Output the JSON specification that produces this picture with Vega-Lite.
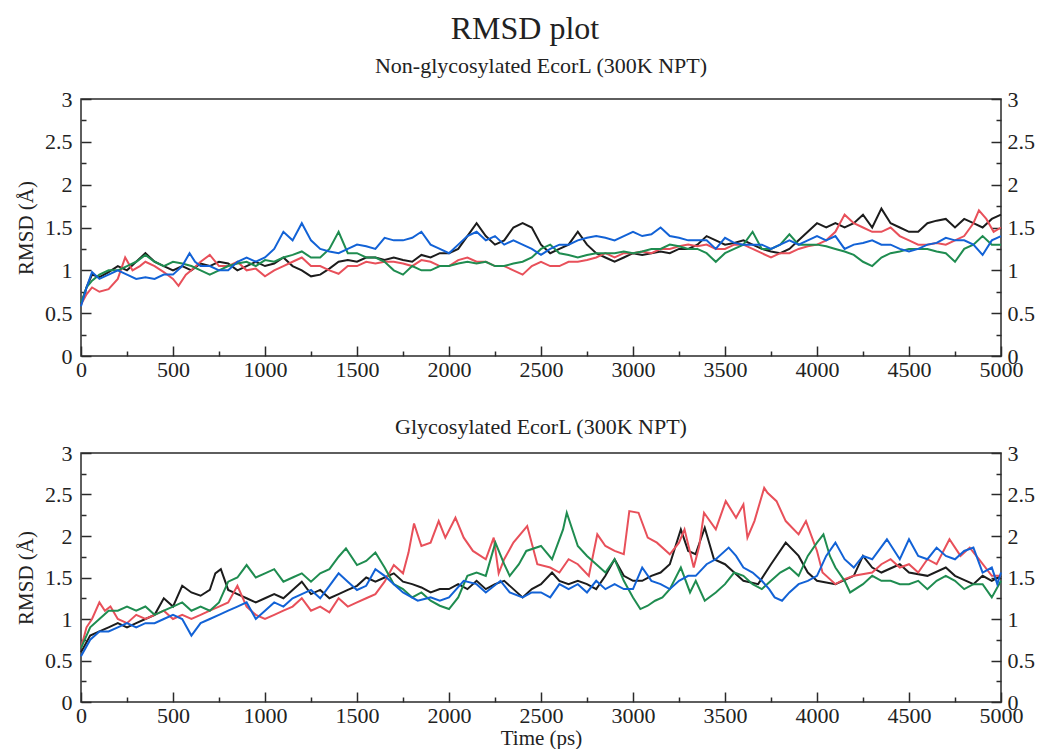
{
  "$schema": "https://vega.github.io/schema/vega-lite/v6.json",
  "background": "white",
  "padding": {"left": 14, "top": 13, "right": 5, "bottom": 0},
  "title": {"text": "RMSD plot", "fontSize": 32, "offset": 8, "anchor": "middle"},
  "config": {
    "font": "Liberation Serif",
    "view": {"stroke": "#2a2a2a", "strokeWidth": 1.5},
    "axis": {"domain": false, "ticks": true, "tickColor": "#2a2a2a", "tickWidth": 1.5, "labelColor": "#222", "labelFont": "Liberation Serif", "labelFontSize": 22, "labelOverlap": false, "labelBound": false, "labelFlush": false, "titleFont": "Liberation Serif", "titleFontWeight": "normal", "titleFontSize": 21, "titleColor": "#222", "grid": false},
    "title": {"font": "Liberation Serif", "fontWeight": "normal", "fontSize": 22, "color": "#222"}
  },
  "datasets": {
    "top": [
      {"s":"s1","t":0,"v":0.6},{"s":"s1","t":30,"v":0.8},{"s":"s1","t":60,"v":0.95},{"s":"s1","t":100,"v":0.92},{"s":"s1","t":150,"v":0.98},{"s":"s1","t":200,"v":1.05},{"s":"s1","t":250,"v":1.0},{"s":"s1","t":300,"v":1.1},{"s":"s1","t":350,"v":1.2},{"s":"s1","t":400,"v":1.1},{"s":"s1","t":450,"v":1.05},{"s":"s1","t":500,"v":1.0},{"s":"s1","t":550,"v":1.05},{"s":"s1","t":600,"v":1.0},{"s":"s1","t":650,"v":1.08},{"s":"s1","t":700,"v":1.05},{"s":"s1","t":750,"v":1.1},{"s":"s1","t":800,"v":1.08},{"s":"s1","t":850,"v":1.0},{"s":"s1","t":900,"v":1.05},{"s":"s1","t":950,"v":1.1},{"s":"s1","t":1000,"v":1.05},{"s":"s1","t":1050,"v":1.08},{"s":"s1","t":1100,"v":1.15},{"s":"s1","t":1150,"v":1.05},{"s":"s1","t":1200,"v":1.0},{"s":"s1","t":1250,"v":0.93},{"s":"s1","t":1300,"v":0.95},{"s":"s1","t":1350,"v":1.02},{"s":"s1","t":1400,"v":1.1},{"s":"s1","t":1450,"v":1.12},{"s":"s1","t":1500,"v":1.1},{"s":"s1","t":1550,"v":1.15},{"s":"s1","t":1600,"v":1.15},{"s":"s1","t":1650,"v":1.12},{"s":"s1","t":1700,"v":1.15},{"s":"s1","t":1750,"v":1.12},{"s":"s1","t":1800,"v":1.1},{"s":"s1","t":1850,"v":1.18},{"s":"s1","t":1900,"v":1.15},{"s":"s1","t":1950,"v":1.2},{"s":"s1","t":2000,"v":1.2},{"s":"s1","t":2050,"v":1.25},{"s":"s1","t":2100,"v":1.4},{"s":"s1","t":2150,"v":1.55},{"s":"s1","t":2200,"v":1.4},{"s":"s1","t":2250,"v":1.3},{"s":"s1","t":2300,"v":1.35},{"s":"s1","t":2350,"v":1.5},{"s":"s1","t":2400,"v":1.55},{"s":"s1","t":2450,"v":1.5},{"s":"s1","t":2500,"v":1.3},{"s":"s1","t":2550,"v":1.2},{"s":"s1","t":2600,"v":1.25},{"s":"s1","t":2650,"v":1.3},{"s":"s1","t":2700,"v":1.45},{"s":"s1","t":2750,"v":1.3},{"s":"s1","t":2800,"v":1.2},{"s":"s1","t":2850,"v":1.15},{"s":"s1","t":2900,"v":1.1},{"s":"s1","t":2950,"v":1.15},{"s":"s1","t":3000,"v":1.2},{"s":"s1","t":3050,"v":1.18},{"s":"s1","t":3100,"v":1.2},{"s":"s1","t":3150,"v":1.22},{"s":"s1","t":3200,"v":1.2},{"s":"s1","t":3250,"v":1.25},{"s":"s1","t":3300,"v":1.25},{"s":"s1","t":3350,"v":1.3},{"s":"s1","t":3400,"v":1.4},{"s":"s1","t":3450,"v":1.35},{"s":"s1","t":3500,"v":1.3},{"s":"s1","t":3550,"v":1.32},{"s":"s1","t":3600,"v":1.35},{"s":"s1","t":3650,"v":1.3},{"s":"s1","t":3700,"v":1.25},{"s":"s1","t":3750,"v":1.22},{"s":"s1","t":3800,"v":1.2},{"s":"s1","t":3850,"v":1.25},{"s":"s1","t":3900,"v":1.35},{"s":"s1","t":3950,"v":1.45},{"s":"s1","t":4000,"v":1.55},{"s":"s1","t":4050,"v":1.5},{"s":"s1","t":4100,"v":1.55},{"s":"s1","t":4150,"v":1.5},{"s":"s1","t":4200,"v":1.55},{"s":"s1","t":4250,"v":1.65},{"s":"s1","t":4300,"v":1.5},{"s":"s1","t":4350,"v":1.72},{"s":"s1","t":4400,"v":1.55},{"s":"s1","t":4450,"v":1.5},{"s":"s1","t":4500,"v":1.45},{"s":"s1","t":4550,"v":1.45},{"s":"s1","t":4600,"v":1.55},{"s":"s1","t":4650,"v":1.58},{"s":"s1","t":4700,"v":1.6},{"s":"s1","t":4750,"v":1.5},{"s":"s1","t":4800,"v":1.6},{"s":"s1","t":4850,"v":1.55},{"s":"s1","t":4900,"v":1.5},{"s":"s1","t":4950,"v":1.6},{"s":"s1","t":5000,"v":1.65},
      {"s":"s2","t":0,"v":0.6},{"s":"s2","t":30,"v":0.72},{"s":"s2","t":60,"v":0.8},{"s":"s2","t":100,"v":0.75},{"s":"s2","t":150,"v":0.78},{"s":"s2","t":200,"v":0.9},{"s":"s2","t":240,"v":1.15},{"s":"s2","t":280,"v":1.0},{"s":"s2","t":320,"v":1.05},{"s":"s2","t":350,"v":1.1},{"s":"s2","t":400,"v":1.05},{"s":"s2","t":450,"v":0.98},{"s":"s2","t":500,"v":0.9},{"s":"s2","t":530,"v":0.82},{"s":"s2","t":570,"v":0.95},{"s":"s2","t":600,"v":1.0},{"s":"s2","t":650,"v":1.1},{"s":"s2","t":700,"v":1.18},{"s":"s2","t":750,"v":1.05},{"s":"s2","t":800,"v":1.05},{"s":"s2","t":850,"v":1.1},{"s":"s2","t":900,"v":1.0},{"s":"s2","t":950,"v":1.02},{"s":"s2","t":1000,"v":0.93},{"s":"s2","t":1050,"v":1.0},{"s":"s2","t":1100,"v":1.05},{"s":"s2","t":1150,"v":1.1},{"s":"s2","t":1200,"v":1.15},{"s":"s2","t":1250,"v":1.05},{"s":"s2","t":1300,"v":1.05},{"s":"s2","t":1350,"v":1.0},{"s":"s2","t":1400,"v":0.96},{"s":"s2","t":1450,"v":1.05},{"s":"s2","t":1500,"v":1.05},{"s":"s2","t":1550,"v":1.1},{"s":"s2","t":1600,"v":1.08},{"s":"s2","t":1650,"v":1.1},{"s":"s2","t":1700,"v":1.1},{"s":"s2","t":1750,"v":1.08},{"s":"s2","t":1800,"v":1.05},{"s":"s2","t":1850,"v":1.12},{"s":"s2","t":1900,"v":1.1},{"s":"s2","t":1950,"v":1.05},{"s":"s2","t":2000,"v":1.05},{"s":"s2","t":2050,"v":1.12},{"s":"s2","t":2100,"v":1.15},{"s":"s2","t":2150,"v":1.1},{"s":"s2","t":2200,"v":1.1},{"s":"s2","t":2250,"v":1.05},{"s":"s2","t":2300,"v":1.05},{"s":"s2","t":2350,"v":1.0},{"s":"s2","t":2400,"v":0.95},{"s":"s2","t":2450,"v":1.05},{"s":"s2","t":2500,"v":1.1},{"s":"s2","t":2550,"v":1.05},{"s":"s2","t":2600,"v":1.05},{"s":"s2","t":2650,"v":1.1},{"s":"s2","t":2700,"v":1.1},{"s":"s2","t":2750,"v":1.12},{"s":"s2","t":2800,"v":1.15},{"s":"s2","t":2850,"v":1.2},{"s":"s2","t":2900,"v":1.15},{"s":"s2","t":2950,"v":1.2},{"s":"s2","t":3000,"v":1.2},{"s":"s2","t":3050,"v":1.22},{"s":"s2","t":3100,"v":1.2},{"s":"s2","t":3150,"v":1.25},{"s":"s2","t":3200,"v":1.25},{"s":"s2","t":3250,"v":1.28},{"s":"s2","t":3300,"v":1.3},{"s":"s2","t":3350,"v":1.28},{"s":"s2","t":3400,"v":1.3},{"s":"s2","t":3450,"v":1.25},{"s":"s2","t":3500,"v":1.25},{"s":"s2","t":3550,"v":1.3},{"s":"s2","t":3600,"v":1.3},{"s":"s2","t":3650,"v":1.25},{"s":"s2","t":3700,"v":1.2},{"s":"s2","t":3750,"v":1.15},{"s":"s2","t":3800,"v":1.2},{"s":"s2","t":3850,"v":1.2},{"s":"s2","t":3900,"v":1.25},{"s":"s2","t":3950,"v":1.28},{"s":"s2","t":4000,"v":1.3},{"s":"s2","t":4050,"v":1.35},{"s":"s2","t":4100,"v":1.45},{"s":"s2","t":4150,"v":1.65},{"s":"s2","t":4200,"v":1.55},{"s":"s2","t":4250,"v":1.5},{"s":"s2","t":4300,"v":1.45},{"s":"s2","t":4350,"v":1.45},{"s":"s2","t":4400,"v":1.5},{"s":"s2","t":4450,"v":1.4},{"s":"s2","t":4500,"v":1.35},{"s":"s2","t":4550,"v":1.3},{"s":"s2","t":4600,"v":1.3},{"s":"s2","t":4650,"v":1.32},{"s":"s2","t":4700,"v":1.3},{"s":"s2","t":4750,"v":1.35},{"s":"s2","t":4800,"v":1.4},{"s":"s2","t":4850,"v":1.55},{"s":"s2","t":4880,"v":1.7},{"s":"s2","t":4920,"v":1.6},{"s":"s2","t":4960,"v":1.45},{"s":"s2","t":5000,"v":1.5},
      {"s":"s3","t":0,"v":0.62},{"s":"s3","t":30,"v":0.8},{"s":"s3","t":60,"v":0.88},{"s":"s3","t":100,"v":0.95},{"s":"s3","t":150,"v":1.0},{"s":"s3","t":200,"v":1.0},{"s":"s3","t":250,"v":1.05},{"s":"s3","t":300,"v":1.1},{"s":"s3","t":350,"v":1.18},{"s":"s3","t":400,"v":1.1},{"s":"s3","t":450,"v":1.05},{"s":"s3","t":500,"v":1.1},{"s":"s3","t":550,"v":1.08},{"s":"s3","t":600,"v":1.05},{"s":"s3","t":650,"v":1.0},{"s":"s3","t":700,"v":0.95},{"s":"s3","t":750,"v":1.0},{"s":"s3","t":800,"v":1.05},{"s":"s3","t":850,"v":1.08},{"s":"s3","t":900,"v":1.1},{"s":"s3","t":950,"v":1.05},{"s":"s3","t":1000,"v":1.12},{"s":"s3","t":1050,"v":1.1},{"s":"s3","t":1100,"v":1.15},{"s":"s3","t":1150,"v":1.18},{"s":"s3","t":1200,"v":1.22},{"s":"s3","t":1250,"v":1.15},{"s":"s3","t":1300,"v":1.15},{"s":"s3","t":1350,"v":1.25},{"s":"s3","t":1400,"v":1.45},{"s":"s3","t":1450,"v":1.2},{"s":"s3","t":1500,"v":1.2},{"s":"s3","t":1550,"v":1.15},{"s":"s3","t":1600,"v":1.15},{"s":"s3","t":1650,"v":1.1},{"s":"s3","t":1700,"v":1.0},{"s":"s3","t":1750,"v":0.95},{"s":"s3","t":1800,"v":1.05},{"s":"s3","t":1850,"v":1.0},{"s":"s3","t":1900,"v":1.0},{"s":"s3","t":1950,"v":1.05},{"s":"s3","t":2000,"v":1.05},{"s":"s3","t":2050,"v":1.08},{"s":"s3","t":2100,"v":1.1},{"s":"s3","t":2150,"v":1.08},{"s":"s3","t":2200,"v":1.1},{"s":"s3","t":2250,"v":1.05},{"s":"s3","t":2300,"v":1.05},{"s":"s3","t":2350,"v":1.08},{"s":"s3","t":2400,"v":1.1},{"s":"s3","t":2450,"v":1.15},{"s":"s3","t":2500,"v":1.25},{"s":"s3","t":2550,"v":1.3},{"s":"s3","t":2600,"v":1.2},{"s":"s3","t":2650,"v":1.18},{"s":"s3","t":2700,"v":1.15},{"s":"s3","t":2750,"v":1.18},{"s":"s3","t":2800,"v":1.2},{"s":"s3","t":2850,"v":1.2},{"s":"s3","t":2900,"v":1.2},{"s":"s3","t":2950,"v":1.22},{"s":"s3","t":3000,"v":1.2},{"s":"s3","t":3050,"v":1.22},{"s":"s3","t":3100,"v":1.25},{"s":"s3","t":3150,"v":1.25},{"s":"s3","t":3200,"v":1.3},{"s":"s3","t":3250,"v":1.28},{"s":"s3","t":3300,"v":1.25},{"s":"s3","t":3350,"v":1.25},{"s":"s3","t":3400,"v":1.2},{"s":"s3","t":3450,"v":1.1},{"s":"s3","t":3500,"v":1.2},{"s":"s3","t":3550,"v":1.25},{"s":"s3","t":3600,"v":1.3},{"s":"s3","t":3650,"v":1.45},{"s":"s3","t":3700,"v":1.25},{"s":"s3","t":3750,"v":1.25},{"s":"s3","t":3800,"v":1.3},{"s":"s3","t":3850,"v":1.42},{"s":"s3","t":3900,"v":1.3},{"s":"s3","t":3950,"v":1.3},{"s":"s3","t":4000,"v":1.3},{"s":"s3","t":4050,"v":1.28},{"s":"s3","t":4100,"v":1.25},{"s":"s3","t":4150,"v":1.22},{"s":"s3","t":4200,"v":1.18},{"s":"s3","t":4250,"v":1.1},{"s":"s3","t":4300,"v":1.05},{"s":"s3","t":4350,"v":1.15},{"s":"s3","t":4400,"v":1.2},{"s":"s3","t":4450,"v":1.22},{"s":"s3","t":4500,"v":1.25},{"s":"s3","t":4550,"v":1.25},{"s":"s3","t":4600,"v":1.25},{"s":"s3","t":4650,"v":1.22},{"s":"s3","t":4700,"v":1.2},{"s":"s3","t":4750,"v":1.1},{"s":"s3","t":4800,"v":1.25},{"s":"s3","t":4850,"v":1.3},{"s":"s3","t":4900,"v":1.4},{"s":"s3","t":4950,"v":1.3},{"s":"s3","t":5000,"v":1.3},
      {"s":"s4","t":0,"v":0.58},{"s":"s4","t":30,"v":0.8},{"s":"s4","t":60,"v":0.98},{"s":"s4","t":100,"v":0.9},{"s":"s4","t":150,"v":0.95},{"s":"s4","t":200,"v":1.0},{"s":"s4","t":250,"v":0.95},{"s":"s4","t":300,"v":0.9},{"s":"s4","t":350,"v":0.92},{"s":"s4","t":400,"v":0.9},{"s":"s4","t":450,"v":0.95},{"s":"s4","t":500,"v":0.95},{"s":"s4","t":550,"v":1.05},{"s":"s4","t":590,"v":1.2},{"s":"s4","t":620,"v":1.1},{"s":"s4","t":650,"v":1.05},{"s":"s4","t":700,"v":1.05},{"s":"s4","t":750,"v":1.0},{"s":"s4","t":800,"v":1.0},{"s":"s4","t":850,"v":1.1},{"s":"s4","t":900,"v":1.15},{"s":"s4","t":950,"v":1.1},{"s":"s4","t":1000,"v":1.15},{"s":"s4","t":1050,"v":1.25},{"s":"s4","t":1100,"v":1.45},{"s":"s4","t":1150,"v":1.35},{"s":"s4","t":1200,"v":1.55},{"s":"s4","t":1250,"v":1.35},{"s":"s4","t":1300,"v":1.25},{"s":"s4","t":1350,"v":1.22},{"s":"s4","t":1400,"v":1.2},{"s":"s4","t":1450,"v":1.25},{"s":"s4","t":1500,"v":1.3},{"s":"s4","t":1550,"v":1.28},{"s":"s4","t":1600,"v":1.25},{"s":"s4","t":1650,"v":1.38},{"s":"s4","t":1700,"v":1.35},{"s":"s4","t":1750,"v":1.35},{"s":"s4","t":1800,"v":1.38},{"s":"s4","t":1850,"v":1.45},{"s":"s4","t":1900,"v":1.3},{"s":"s4","t":1950,"v":1.25},{"s":"s4","t":2000,"v":1.2},{"s":"s4","t":2050,"v":1.3},{"s":"s4","t":2100,"v":1.4},{"s":"s4","t":2150,"v":1.45},{"s":"s4","t":2200,"v":1.35},{"s":"s4","t":2250,"v":1.4},{"s":"s4","t":2300,"v":1.3},{"s":"s4","t":2350,"v":1.35},{"s":"s4","t":2400,"v":1.3},{"s":"s4","t":2450,"v":1.25},{"s":"s4","t":2500,"v":1.18},{"s":"s4","t":2550,"v":1.25},{"s":"s4","t":2600,"v":1.3},{"s":"s4","t":2650,"v":1.3},{"s":"s4","t":2700,"v":1.35},{"s":"s4","t":2750,"v":1.38},{"s":"s4","t":2800,"v":1.4},{"s":"s4","t":2850,"v":1.38},{"s":"s4","t":2900,"v":1.35},{"s":"s4","t":2950,"v":1.4},{"s":"s4","t":3000,"v":1.45},{"s":"s4","t":3050,"v":1.4},{"s":"s4","t":3100,"v":1.42},{"s":"s4","t":3150,"v":1.5},{"s":"s4","t":3200,"v":1.4},{"s":"s4","t":3250,"v":1.38},{"s":"s4","t":3300,"v":1.35},{"s":"s4","t":3350,"v":1.35},{"s":"s4","t":3400,"v":1.35},{"s":"s4","t":3450,"v":1.25},{"s":"s4","t":3500,"v":1.38},{"s":"s4","t":3550,"v":1.32},{"s":"s4","t":3600,"v":1.3},{"s":"s4","t":3650,"v":1.3},{"s":"s4","t":3700,"v":1.3},{"s":"s4","t":3750,"v":1.25},{"s":"s4","t":3800,"v":1.3},{"s":"s4","t":3850,"v":1.35},{"s":"s4","t":3900,"v":1.3},{"s":"s4","t":3950,"v":1.35},{"s":"s4","t":4000,"v":1.4},{"s":"s4","t":4050,"v":1.35},{"s":"s4","t":4100,"v":1.4},{"s":"s4","t":4150,"v":1.25},{"s":"s4","t":4200,"v":1.3},{"s":"s4","t":4250,"v":1.32},{"s":"s4","t":4300,"v":1.35},{"s":"s4","t":4350,"v":1.3},{"s":"s4","t":4400,"v":1.3},{"s":"s4","t":4450,"v":1.25},{"s":"s4","t":4500,"v":1.22},{"s":"s4","t":4550,"v":1.25},{"s":"s4","t":4600,"v":1.3},{"s":"s4","t":4650,"v":1.32},{"s":"s4","t":4700,"v":1.38},{"s":"s4","t":4750,"v":1.35},{"s":"s4","t":4800,"v":1.35},{"s":"s4","t":4850,"v":1.3},{"s":"s4","t":4900,"v":1.18},{"s":"s4","t":4950,"v":1.35},{"s":"s4","t":5000,"v":1.4}
    ],
    "bottom": [
      {"s":"s1","t":0,"v":0.6},{"s":"s1","t":50,"v":0.8},{"s":"s1","t":100,"v":0.85},{"s":"s1","t":150,"v":0.9},{"s":"s1","t":200,"v":0.95},{"s":"s1","t":250,"v":0.9},{"s":"s1","t":300,"v":0.95},{"s":"s1","t":350,"v":1.0},{"s":"s1","t":400,"v":1.05},{"s":"s1","t":450,"v":1.25},{"s":"s1","t":500,"v":1.15},{"s":"s1","t":550,"v":1.4},{"s":"s1","t":600,"v":1.32},{"s":"s1","t":650,"v":1.28},{"s":"s1","t":700,"v":1.35},{"s":"s1","t":730,"v":1.55},{"s":"s1","t":760,"v":1.6},{"s":"s1","t":800,"v":1.35},{"s":"s1","t":850,"v":1.3},{"s":"s1","t":900,"v":1.25},{"s":"s1","t":950,"v":1.2},{"s":"s1","t":1000,"v":1.25},{"s":"s1","t":1050,"v":1.3},{"s":"s1","t":1100,"v":1.25},{"s":"s1","t":1150,"v":1.35},{"s":"s1","t":1200,"v":1.45},{"s":"s1","t":1250,"v":1.3},{"s":"s1","t":1300,"v":1.35},{"s":"s1","t":1350,"v":1.25},{"s":"s1","t":1400,"v":1.3},{"s":"s1","t":1450,"v":1.35},{"s":"s1","t":1500,"v":1.4},{"s":"s1","t":1550,"v":1.5},{"s":"s1","t":1600,"v":1.45},{"s":"s1","t":1650,"v":1.5},{"s":"s1","t":1700,"v":1.55},{"s":"s1","t":1750,"v":1.45},{"s":"s1","t":1800,"v":1.42},{"s":"s1","t":1850,"v":1.38},{"s":"s1","t":1900,"v":1.32},{"s":"s1","t":1950,"v":1.36},{"s":"s1","t":2000,"v":1.36},{"s":"s1","t":2050,"v":1.42},{"s":"s1","t":2100,"v":1.36},{"s":"s1","t":2150,"v":1.46},{"s":"s1","t":2200,"v":1.36},{"s":"s1","t":2250,"v":1.42},{"s":"s1","t":2300,"v":1.46},{"s":"s1","t":2350,"v":1.36},{"s":"s1","t":2400,"v":1.26},{"s":"s1","t":2450,"v":1.36},{"s":"s1","t":2500,"v":1.42},{"s":"s1","t":2560,"v":1.56},{"s":"s1","t":2600,"v":1.46},{"s":"s1","t":2650,"v":1.42},{"s":"s1","t":2700,"v":1.46},{"s":"s1","t":2750,"v":1.42},{"s":"s1","t":2800,"v":1.36},{"s":"s1","t":2850,"v":1.52},{"s":"s1","t":2900,"v":1.72},{"s":"s1","t":2950,"v":1.52},{"s":"s1","t":3000,"v":1.46},{"s":"s1","t":3050,"v":1.46},{"s":"s1","t":3100,"v":1.52},{"s":"s1","t":3150,"v":1.56},{"s":"s1","t":3200,"v":1.66},{"s":"s1","t":3260,"v":2.08},{"s":"s1","t":3300,"v":1.82},{"s":"s1","t":3340,"v":1.78},{"s":"s1","t":3390,"v":2.1},{"s":"s1","t":3440,"v":1.72},{"s":"s1","t":3500,"v":1.66},{"s":"s1","t":3550,"v":1.56},{"s":"s1","t":3600,"v":1.46},{"s":"s1","t":3680,"v":1.42},{"s":"s1","t":3750,"v":1.66},{"s":"s1","t":3830,"v":1.92},{"s":"s1","t":3900,"v":1.76},{"s":"s1","t":3950,"v":1.56},{"s":"s1","t":4000,"v":1.46},{"s":"s1","t":4100,"v":1.42},{"s":"s1","t":4200,"v":1.52},{"s":"s1","t":4250,"v":1.76},{"s":"s1","t":4300,"v":1.62},{"s":"s1","t":4350,"v":1.56},{"s":"s1","t":4450,"v":1.66},{"s":"s1","t":4500,"v":1.56},{"s":"s1","t":4600,"v":1.52},{"s":"s1","t":4700,"v":1.62},{"s":"s1","t":4750,"v":1.52},{"s":"s1","t":4850,"v":1.42},{"s":"s1","t":4900,"v":1.52},{"s":"s1","t":4950,"v":1.46},{"s":"s1","t":5000,"v":1.52},
      {"s":"s2","t":0,"v":0.65},{"s":"s2","t":30,"v":0.9},{"s":"s2","t":60,"v":1.0},{"s":"s2","t":100,"v":1.2},{"s":"s2","t":130,"v":1.1},{"s":"s2","t":160,"v":1.15},{"s":"s2","t":200,"v":1.0},{"s":"s2","t":250,"v":0.95},{"s":"s2","t":300,"v":1.05},{"s":"s2","t":350,"v":1.0},{"s":"s2","t":400,"v":1.05},{"s":"s2","t":450,"v":1.1},{"s":"s2","t":500,"v":1.0},{"s":"s2","t":550,"v":1.05},{"s":"s2","t":600,"v":1.0},{"s":"s2","t":650,"v":1.05},{"s":"s2","t":700,"v":1.1},{"s":"s2","t":750,"v":1.15},{"s":"s2","t":800,"v":1.2},{"s":"s2","t":850,"v":1.4},{"s":"s2","t":900,"v":1.15},{"s":"s2","t":950,"v":1.05},{"s":"s2","t":1000,"v":1.0},{"s":"s2","t":1050,"v":1.05},{"s":"s2","t":1100,"v":1.1},{"s":"s2","t":1150,"v":1.15},{"s":"s2","t":1200,"v":1.25},{"s":"s2","t":1250,"v":1.1},{"s":"s2","t":1300,"v":1.15},{"s":"s2","t":1350,"v":1.08},{"s":"s2","t":1400,"v":1.25},{"s":"s2","t":1450,"v":1.15},{"s":"s2","t":1500,"v":1.2},{"s":"s2","t":1550,"v":1.25},{"s":"s2","t":1600,"v":1.3},{"s":"s2","t":1650,"v":1.45},{"s":"s2","t":1700,"v":1.65},{"s":"s2","t":1750,"v":1.55},{"s":"s2","t":1780,"v":1.8},{"s":"s2","t":1810,"v":2.15},{"s":"s2","t":1850,"v":1.88},{"s":"s2","t":1900,"v":1.92},{"s":"s2","t":1944,"v":2.18},{"s":"s2","t":1980,"v":1.98},{"s":"s2","t":2035,"v":2.22},{"s":"s2","t":2080,"v":1.98},{"s":"s2","t":2130,"v":1.82},{"s":"s2","t":2200,"v":1.72},{"s":"s2","t":2243,"v":1.98},{"s":"s2","t":2270,"v":1.55},{"s":"s2","t":2300,"v":1.72},{"s":"s2","t":2350,"v":1.92},{"s":"s2","t":2425,"v":2.12},{"s":"s2","t":2480,"v":1.66},{"s":"s2","t":2550,"v":1.62},{"s":"s2","t":2600,"v":1.56},{"s":"s2","t":2650,"v":1.72},{"s":"s2","t":2700,"v":1.66},{"s":"s2","t":2760,"v":1.52},{"s":"s2","t":2806,"v":2.02},{"s":"s2","t":2850,"v":1.88},{"s":"s2","t":2900,"v":1.82},{"s":"s2","t":2950,"v":1.78},{"s":"s2","t":2980,"v":2.3},{"s":"s2","t":3030,"v":2.28},{"s":"s2","t":3080,"v":1.98},{"s":"s2","t":3130,"v":1.92},{"s":"s2","t":3200,"v":1.78},{"s":"s2","t":3250,"v":1.92},{"s":"s2","t":3280,"v":2.08},{"s":"s2","t":3330,"v":1.62},{"s":"s2","t":3360,"v":1.88},{"s":"s2","t":3386,"v":2.28},{"s":"s2","t":3450,"v":2.08},{"s":"s2","t":3504,"v":2.42},{"s":"s2","t":3560,"v":2.22},{"s":"s2","t":3600,"v":2.38},{"s":"s2","t":3622,"v":1.98},{"s":"s2","t":3660,"v":2.18},{"s":"s2","t":3713,"v":2.58},{"s":"s2","t":3731,"v":2.52},{"s":"s2","t":3780,"v":2.42},{"s":"s2","t":3830,"v":2.18},{"s":"s2","t":3900,"v":2.02},{"s":"s2","t":3940,"v":2.18},{"s":"s2","t":4000,"v":1.82},{"s":"s2","t":4030,"v":1.56},{"s":"s2","t":4100,"v":1.42},{"s":"s2","t":4150,"v":1.48},{"s":"s2","t":4200,"v":1.52},{"s":"s2","t":4300,"v":1.56},{"s":"s2","t":4350,"v":1.66},{"s":"s2","t":4400,"v":1.72},{"s":"s2","t":4450,"v":1.62},{"s":"s2","t":4500,"v":1.66},{"s":"s2","t":4550,"v":1.56},{"s":"s2","t":4600,"v":1.72},{"s":"s2","t":4650,"v":1.66},{"s":"s2","t":4720,"v":1.96},{"s":"s2","t":4780,"v":1.76},{"s":"s2","t":4830,"v":1.86},{"s":"s2","t":4880,"v":1.72},{"s":"s2","t":4950,"v":1.52},{"s":"s2","t":5000,"v":1.52},
      {"s":"s3","t":0,"v":0.65},{"s":"s3","t":50,"v":0.9},{"s":"s3","t":100,"v":1.0},{"s":"s3","t":150,"v":1.1},{"s":"s3","t":200,"v":1.1},{"s":"s3","t":250,"v":1.15},{"s":"s3","t":300,"v":1.1},{"s":"s3","t":350,"v":1.15},{"s":"s3","t":400,"v":1.05},{"s":"s3","t":450,"v":1.1},{"s":"s3","t":500,"v":1.15},{"s":"s3","t":550,"v":1.2},{"s":"s3","t":600,"v":1.1},{"s":"s3","t":650,"v":1.15},{"s":"s3","t":700,"v":1.1},{"s":"s3","t":750,"v":1.2},{"s":"s3","t":800,"v":1.45},{"s":"s3","t":850,"v":1.5},{"s":"s3","t":900,"v":1.65},{"s":"s3","t":950,"v":1.5},{"s":"s3","t":1000,"v":1.55},{"s":"s3","t":1050,"v":1.6},{"s":"s3","t":1100,"v":1.45},{"s":"s3","t":1150,"v":1.5},{"s":"s3","t":1200,"v":1.55},{"s":"s3","t":1250,"v":1.45},{"s":"s3","t":1300,"v":1.55},{"s":"s3","t":1350,"v":1.6},{"s":"s3","t":1400,"v":1.75},{"s":"s3","t":1440,"v":1.85},{"s":"s3","t":1500,"v":1.65},{"s":"s3","t":1550,"v":1.7},{"s":"s3","t":1600,"v":1.8},{"s":"s3","t":1650,"v":1.62},{"s":"s3","t":1700,"v":1.42},{"s":"s3","t":1750,"v":1.36},{"s":"s3","t":1800,"v":1.26},{"s":"s3","t":1850,"v":1.32},{"s":"s3","t":1900,"v":1.22},{"s":"s3","t":1950,"v":1.16},{"s":"s3","t":2000,"v":1.12},{"s":"s3","t":2050,"v":1.26},{"s":"s3","t":2100,"v":1.52},{"s":"s3","t":2150,"v":1.56},{"s":"s3","t":2200,"v":1.52},{"s":"s3","t":2252,"v":1.92},{"s":"s3","t":2300,"v":1.66},{"s":"s3","t":2330,"v":1.52},{"s":"s3","t":2380,"v":1.66},{"s":"s3","t":2420,"v":1.82},{"s":"s3","t":2500,"v":1.88},{"s":"s3","t":2560,"v":1.72},{"s":"s3","t":2620,"v":2.08},{"s":"s3","t":2640,"v":2.28},{"s":"s3","t":2700,"v":1.88},{"s":"s3","t":2750,"v":1.76},{"s":"s3","t":2800,"v":1.66},{"s":"s3","t":2850,"v":1.56},{"s":"s3","t":2900,"v":1.72},{"s":"s3","t":2950,"v":1.46},{"s":"s3","t":3000,"v":1.26},{"s":"s3","t":3040,"v":1.12},{"s":"s3","t":3080,"v":1.16},{"s":"s3","t":3120,"v":1.22},{"s":"s3","t":3160,"v":1.26},{"s":"s3","t":3200,"v":1.36},{"s":"s3","t":3260,"v":1.62},{"s":"s3","t":3310,"v":1.32},{"s":"s3","t":3341,"v":1.46},{"s":"s3","t":3390,"v":1.22},{"s":"s3","t":3450,"v":1.32},{"s":"s3","t":3500,"v":1.42},{"s":"s3","t":3550,"v":1.56},{"s":"s3","t":3600,"v":1.52},{"s":"s3","t":3650,"v":1.42},{"s":"s3","t":3700,"v":1.36},{"s":"s3","t":3750,"v":1.46},{"s":"s3","t":3800,"v":1.56},{"s":"s3","t":3850,"v":1.62},{"s":"s3","t":3900,"v":1.52},{"s":"s3","t":3950,"v":1.76},{"s":"s3","t":4000,"v":1.92},{"s":"s3","t":4035,"v":2.02},{"s":"s3","t":4070,"v":1.76},{"s":"s3","t":4100,"v":1.62},{"s":"s3","t":4150,"v":1.46},{"s":"s3","t":4180,"v":1.32},{"s":"s3","t":4250,"v":1.42},{"s":"s3","t":4300,"v":1.52},{"s":"s3","t":4350,"v":1.46},{"s":"s3","t":4400,"v":1.46},{"s":"s3","t":4450,"v":1.42},{"s":"s3","t":4500,"v":1.42},{"s":"s3","t":4550,"v":1.46},{"s":"s3","t":4600,"v":1.36},{"s":"s3","t":4650,"v":1.46},{"s":"s3","t":4700,"v":1.52},{"s":"s3","t":4750,"v":1.46},{"s":"s3","t":4800,"v":1.36},{"s":"s3","t":4850,"v":1.42},{"s":"s3","t":4900,"v":1.42},{"s":"s3","t":4950,"v":1.26},{"s":"s3","t":5000,"v":1.46},
      {"s":"s4","t":0,"v":0.55},{"s":"s4","t":50,"v":0.75},{"s":"s4","t":100,"v":0.85},{"s":"s4","t":150,"v":0.85},{"s":"s4","t":200,"v":0.9},{"s":"s4","t":250,"v":0.95},{"s":"s4","t":300,"v":0.9},{"s":"s4","t":350,"v":0.95},{"s":"s4","t":400,"v":0.95},{"s":"s4","t":450,"v":1.0},{"s":"s4","t":500,"v":1.05},{"s":"s4","t":550,"v":1.0},{"s":"s4","t":600,"v":0.8},{"s":"s4","t":650,"v":0.95},{"s":"s4","t":700,"v":1.0},{"s":"s4","t":750,"v":1.05},{"s":"s4","t":800,"v":1.1},{"s":"s4","t":850,"v":1.15},{"s":"s4","t":900,"v":1.2},{"s":"s4","t":950,"v":1.0},{"s":"s4","t":1000,"v":1.1},{"s":"s4","t":1050,"v":1.2},{"s":"s4","t":1100,"v":1.15},{"s":"s4","t":1150,"v":1.25},{"s":"s4","t":1200,"v":1.3},{"s":"s4","t":1250,"v":1.35},{"s":"s4","t":1300,"v":1.25},{"s":"s4","t":1350,"v":1.4},{"s":"s4","t":1400,"v":1.55},{"s":"s4","t":1450,"v":1.45},{"s":"s4","t":1500,"v":1.35},{"s":"s4","t":1550,"v":1.4},{"s":"s4","t":1600,"v":1.6},{"s":"s4","t":1650,"v":1.52},{"s":"s4","t":1700,"v":1.42},{"s":"s4","t":1750,"v":1.32},{"s":"s4","t":1830,"v":1.22},{"s":"s4","t":1900,"v":1.26},{"s":"s4","t":1950,"v":1.22},{"s":"s4","t":2000,"v":1.26},{"s":"s4","t":2080,"v":1.46},{"s":"s4","t":2150,"v":1.42},{"s":"s4","t":2200,"v":1.32},{"s":"s4","t":2280,"v":1.46},{"s":"s4","t":2330,"v":1.32},{"s":"s4","t":2400,"v":1.26},{"s":"s4","t":2450,"v":1.32},{"s":"s4","t":2500,"v":1.32},{"s":"s4","t":2550,"v":1.26},{"s":"s4","t":2600,"v":1.42},{"s":"s4","t":2650,"v":1.36},{"s":"s4","t":2700,"v":1.42},{"s":"s4","t":2750,"v":1.32},{"s":"s4","t":2800,"v":1.46},{"s":"s4","t":2850,"v":1.36},{"s":"s4","t":2900,"v":1.42},{"s":"s4","t":2950,"v":1.36},{"s":"s4","t":3000,"v":1.36},{"s":"s4","t":3050,"v":1.62},{"s":"s4","t":3100,"v":1.46},{"s":"s4","t":3150,"v":1.42},{"s":"s4","t":3200,"v":1.36},{"s":"s4","t":3250,"v":1.46},{"s":"s4","t":3300,"v":1.52},{"s":"s4","t":3341,"v":1.52},{"s":"s4","t":3400,"v":1.66},{"s":"s4","t":3450,"v":1.72},{"s":"s4","t":3520,"v":1.86},{"s":"s4","t":3560,"v":1.76},{"s":"s4","t":3600,"v":1.62},{"s":"s4","t":3650,"v":1.56},{"s":"s4","t":3700,"v":1.46},{"s":"s4","t":3740,"v":1.36},{"s":"s4","t":3770,"v":1.26},{"s":"s4","t":3810,"v":1.22},{"s":"s4","t":3850,"v":1.32},{"s":"s4","t":3900,"v":1.42},{"s":"s4","t":3950,"v":1.46},{"s":"s4","t":4000,"v":1.52},{"s":"s4","t":4050,"v":1.76},{"s":"s4","t":4100,"v":1.92},{"s":"s4","t":4150,"v":1.72},{"s":"s4","t":4200,"v":1.62},{"s":"s4","t":4250,"v":1.76},{"s":"s4","t":4300,"v":1.72},{"s":"s4","t":4380,"v":1.96},{"s":"s4","t":4450,"v":1.72},{"s":"s4","t":4500,"v":1.96},{"s":"s4","t":4550,"v":1.76},{"s":"s4","t":4600,"v":1.72},{"s":"s4","t":4650,"v":1.86},{"s":"s4","t":4700,"v":1.76},{"s":"s4","t":4750,"v":1.72},{"s":"s4","t":4800,"v":1.82},{"s":"s4","t":4850,"v":1.86},{"s":"s4","t":4900,"v":1.56},{"s":"s4","t":4950,"v":1.62},{"s":"s4","t":4980,"v":1.42},{"s":"s4","t":5000,"v":1.56}
    ]
  },
  "vconcat": [
    {
      "width": 920, "height": 257,
      "title": {"text": "Non-glycosylated EcorL (300K NPT)", "offset": 10},
      "data": {"name": "top"},
      "layer": [
        {
          "mark": {"type": "line", "strokeWidth": 2},
          "encoding": {
            "x": {"field": "t", "type": "quantitative", "scale": {"domain": [0, 5000], "nice": false},
              "axis": {"orient": "bottom", "title": null, "format": "d", "values": [0,500,1000,1500,2000,2500,3000,3500,4000,4500,5000], "offset": -10, "tickSize": 10, "labelPadding": 3}},
            "y": {"field": "v", "type": "quantitative", "scale": {"domain": [0, 3], "nice": false},
              "axis": {"orient": "left", "title": "RMSD (Å)", "format": "~g", "values": [0,0.5,1,1.5,2,2.5,3], "offset": -10, "tickSize": 10, "labelPadding": 9, "titlePadding": 8}},
            "color": {"field": "s", "type": "nominal", "scale": {"domain": ["s1","s2","s3","s4"], "range": ["#1c1c1c","#e8505a","#1f8c50","#1262d6"]}, "legend": null}
          }
        },
        {
          "mark": {"type": "line", "opacity": 0},
          "encoding": {
            "x": {"field": "t", "type": "quantitative", "axis": {"orient": "bottom", "title": null, "values": [250,750,1250,1750,2250,2750,3250,3750,4250,4750], "offset": -5, "tickSize": 5, "labels": false}},
            "y": {"field": "v", "type": "quantitative", "axis": {"orient": "left", "title": null, "values": [0.25,0.75,1.25,1.75,2.25,2.75], "offset": -5, "tickSize": 5, "labels": false}},
            "detail": {"field": "s"}
          }
        },
        {
          "mark": {"type": "line", "opacity": 0},
          "encoding": {
            "x": {"field": "t", "type": "quantitative", "axis": null},
            "y": {"field": "v", "type": "quantitative", "axis": {"orient": "right", "title": null, "format": "~g", "values": [0,0.5,1,1.5,2,2.5,3], "offset": -10, "tickSize": 10, "labelPadding": 6}},
            "detail": {"field": "s"}
          }
        },
        {
          "mark": {"type": "line", "opacity": 0},
          "encoding": {
            "x": {"field": "t", "type": "quantitative", "axis": null},
            "y": {"field": "v", "type": "quantitative", "axis": {"orient": "right", "title": null, "values": [0.25,0.75,1.25,1.75,2.25,2.75], "offset": -5, "tickSize": 5, "labels": false}},
            "detail": {"field": "s"}
          }
        }
      ],
      "resolve": {"axis": {"x": "independent", "y": "independent"}}
    },
    {
      "width": 920, "height": 249,
      "title": {"text": "Glycosylated EcorL (300K NPT)", "offset": 3},
      "data": {"name": "bottom"},
      "layer": [
        {
          "mark": {"type": "line", "strokeWidth": 2},
          "encoding": {
            "x": {"field": "t", "type": "quantitative", "scale": {"domain": [0, 5000], "nice": false},
              "axis": {"orient": "bottom", "title": "Time (ps)", "titlePadding": 1, "format": "d", "values": [0,500,1000,1500,2000,2500,3000,3500,4000,4500,5000], "offset": -10, "tickSize": 10, "labelPadding": 3}},
            "y": {"field": "v", "type": "quantitative", "scale": {"domain": [0, 3], "nice": false},
              "axis": {"orient": "left", "title": "RMSD (Å)", "format": "~g", "values": [0,0.5,1,1.5,2,2.5,3], "offset": -10, "tickSize": 10, "labelPadding": 9, "titlePadding": 8}},
            "color": {"field": "s", "type": "nominal", "scale": {"domain": ["s1","s2","s3","s4"], "range": ["#1c1c1c","#e8505a","#1f8c50","#1262d6"]}, "legend": null}
          }
        },
        {
          "mark": {"type": "line", "opacity": 0},
          "encoding": {
            "x": {"field": "t", "type": "quantitative", "axis": {"orient": "bottom", "title": null, "values": [250,750,1250,1750,2250,2750,3250,3750,4250,4750], "offset": -5, "tickSize": 5, "labels": false}},
            "y": {"field": "v", "type": "quantitative", "axis": {"orient": "left", "title": null, "values": [0.25,0.75,1.25,1.75,2.25,2.75], "offset": -5, "tickSize": 5, "labels": false}},
            "detail": {"field": "s"}
          }
        },
        {
          "mark": {"type": "line", "opacity": 0},
          "encoding": {
            "x": {"field": "t", "type": "quantitative", "axis": null},
            "y": {"field": "v", "type": "quantitative", "axis": {"orient": "right", "title": null, "format": "~g", "values": [0,0.5,1,1.5,2,2.5,3], "offset": -10, "tickSize": 10, "labelPadding": 6}},
            "detail": {"field": "s"}
          }
        },
        {
          "mark": {"type": "line", "opacity": 0},
          "encoding": {
            "x": {"field": "t", "type": "quantitative", "axis": null},
            "y": {"field": "v", "type": "quantitative", "axis": {"orient": "right", "title": null, "values": [0.25,0.75,1.25,1.75,2.25,2.75], "offset": -5, "tickSize": 5, "labels": false}},
            "detail": {"field": "s"}
          }
        }
      ],
      "resolve": {"axis": {"x": "independent", "y": "independent"}}
    }
  ],
  "spacing": 34
}
